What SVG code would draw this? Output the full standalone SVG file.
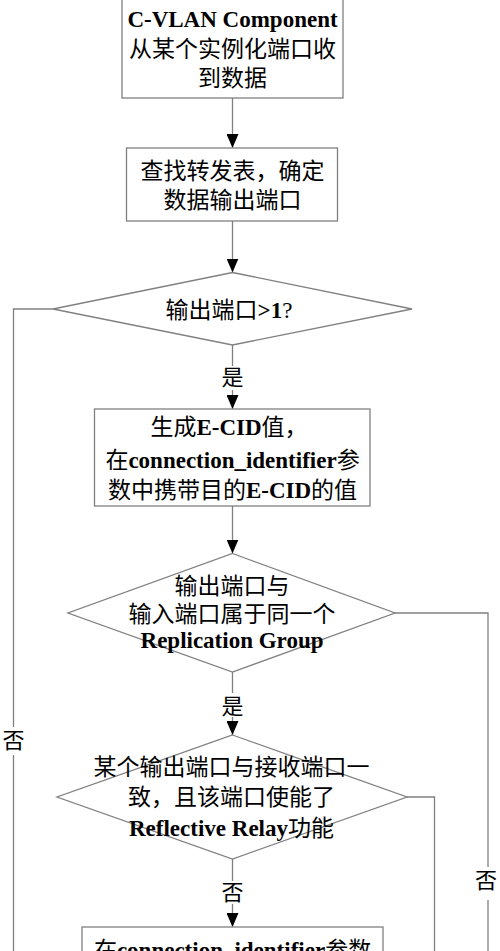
<svg xmlns="http://www.w3.org/2000/svg" width="500" height="951" viewBox="0 0 500 951">
<style>
.shape{fill:#ffffff;stroke:#808080;stroke-width:1.3}
.conn{fill:none;stroke:#808080;stroke-width:1.3}
.t{font-family:"Liberation Serif","Noto Sans CJK SC",serif;font-size:23px;fill:#000;text-anchor:middle}
.b{font-weight:bold}
.lbl{font-family:"Liberation Serif","Noto Sans CJK SC",serif;font-size:22px;fill:#000;text-anchor:middle}
</style>
<defs>
<marker id="arr" viewBox="0 0 14 12" refX="14" refY="6" markerWidth="14" markerHeight="12" orient="auto" markerUnits="userSpaceOnUse">
<path d="M0,0 L14,6 L0,12 z" fill="#000"/>
</marker>
</defs>
<rect width="500" height="951" fill="#fff"/>
<g id="connectors">
<line class="conn" x1="232.5" y1="98" x2="232.5" y2="148" marker-end="url(#arr)"/>
<line class="conn" x1="232.5" y1="221" x2="232.5" y2="272.5" marker-end="url(#arr)"/>
<line class="conn" x1="232.5" y1="345" x2="232.5" y2="366"/>
<line class="conn" x1="232.5" y1="390" x2="232.5" y2="409" marker-end="url(#arr)"/>
<line class="conn" x1="232.5" y1="506" x2="232.5" y2="553.5" marker-end="url(#arr)"/>
<line class="conn" x1="232.5" y1="672" x2="232.5" y2="693"/>
<line class="conn" x1="232.5" y1="717" x2="232.5" y2="735" marker-end="url(#arr)"/>
<line class="conn" x1="232.5" y1="859" x2="232.5" y2="881"/>
<line class="conn" x1="232.5" y1="904" x2="232.5" y2="927" marker-end="url(#arr)"/>
<polyline class="conn" points="53,309 13.5,309 13.5,727"/>
<line class="conn" x1="13.5" y1="755" x2="13.5" y2="951"/>
<polyline class="conn" points="395,613 488,613 488,867"/>
<line class="conn" x1="488" y1="900" x2="488" y2="951"/>
<polyline class="conn" points="407,797 434.5,797 434.5,951"/>
<text class="lbl" x="232.5" y="385">是</text>
<text class="lbl" x="232.5" y="713.5">是</text>
<text class="lbl" x="232.5" y="900">否</text>
<text class="lbl" x="13.5" y="747.5">否</text>
<text class="lbl" x="486" y="888">否</text>
</g>
<g id="n1">
<rect class="shape" x="122" y="-2" width="221" height="100"/>
<text class="t" x="232.5" y="27"><tspan class="b">C-VLAN Component</tspan></text>
<text class="t" x="232.5" y="57">从某个实例化端口收</text>
<text class="t" x="232.5" y="85.5">到数据</text>
</g>
<g id="n2">
<rect class="shape" x="126.5" y="148" width="211" height="73"/>
<text class="t" x="232.5" y="178.5">查找转发表，确定</text>
<text class="t" x="232.5" y="207.5">数据输出端口</text>
</g>
<g id="n3">
<polygon class="shape" points="232.5,272.5 412,309 232.5,345 53,309"/>
<text class="t" x="229" y="317.5">输出端口<tspan class="b">&gt;1</tspan>?</text>
</g>
<g id="n4">
<rect class="shape" x="94.5" y="409" width="275.5" height="97"/>
<text class="t" x="229" y="435">生成<tspan class="b">E-CID</tspan>值，</text>
<text class="t" x="232.5" y="467.5">在<tspan class="b">connection_identifier</tspan>参</text>
<text class="t" x="232.5" y="497.5">数中携带目的<tspan class="b">E-CID</tspan>的值</text>
</g>
<g id="n5">
<polygon class="shape" points="232.5,553.5 395,613 232.5,672 68,613"/>
<text class="t" x="232" y="593.5">输出端口与</text>
<text class="t" x="232" y="621.5">输入端口属于同一个</text>
<text class="t" x="232" y="648"><tspan class="b">Replication Group</tspan></text>
</g>
<g id="n6">
<polygon class="shape" points="232.5,735 407,797 232.5,859 57,797"/>
<text class="t" x="231.5" y="775">某个输出端口与接收端口一</text>
<text class="t" x="231.5" y="805">致，且该端口使能了</text>
<text class="t" x="231.5" y="835.5"><tspan class="b">Reflective Relay</tspan>功能</text>
</g>
<g id="n7">
<rect class="shape" x="82" y="927" width="301" height="40"/>
<text class="t" x="232.5" y="958">在<tspan class="b">connection_identifier</tspan>参数</text>
</g>
</svg>
